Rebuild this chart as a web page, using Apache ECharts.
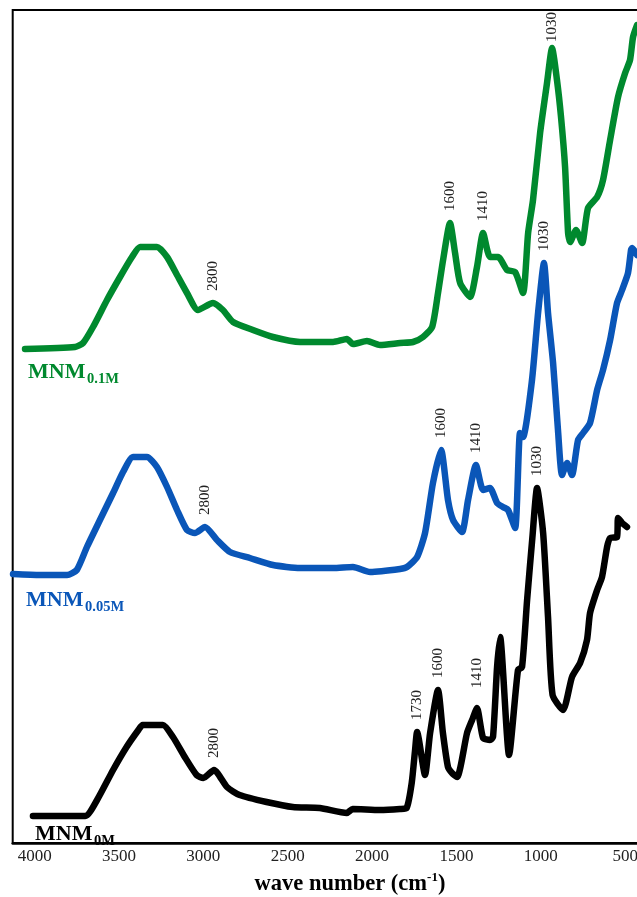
<!DOCTYPE html>
<html>
<head>
<meta charset="utf-8">
<script src="https://cdn.jsdelivr.net/npm/echarts@6/dist/echarts.min.js"></script>
<style>
  html, body { margin: 0; padding: 0; background: #fff; }
  #chart { width: 637px; height: 897px; }
</style>
</head>
<body>
<div id="chart"></div>
<script>
// FTIR spectra of the three MNM samples, stacked with vertical offsets.
// x: wave number (cm-1), y: intensity in arbitrary units.

const tickLabels = [4000, 3500, 3000, 2500, 2000, 1500, 1000, 500];

const mnm0M = [
  [4010, 2.7], [3700, 2.7], [3630, 4.3], [3535, 7.3], [3455, 9.6], [3385, 11.3],
  [3360, 11.8], [3240, 11.8], [3180, 10.6], [3110, 8.6], [3040, 6.8], [3000, 6.5],
  [2937, 7.3], [2860, 5.6], [2785, 4.8], [2625, 4.1], [2470, 3.6], [2310, 3.5],
  [2150, 3.0], [2115, 3.4], [1955, 3.3], [1835, 3.4], [1795, 3.5], [1765, 6.0],
  [1745, 9.3], [1733, 11.1], [1686, 6.8], [1656, 11.0], [1609, 15.3], [1580, 11.0],
  [1550, 7.6], [1526, 7.0], [1496, 6.6], [1437, 11.0], [1407, 12.3], [1378, 13.5],
  [1342, 10.5], [1301, 10.3], [1283, 10.6], [1259, 17.6], [1241, 20.6], [1188, 8.8],
  [1135, 17.3], [1111, 17.6], [1081, 24.3], [1050, 30.5], [1022, 35.5], [986, 31.0],
  [957, 22.6], [930, 14.8], [868, 13.3], [815, 16.6], [767, 18.0], [726, 20.3],
  [708, 23.0], [666, 25.3], [637, 26.6], [607, 29.6], [589, 30.5], [548, 30.6],
  [542, 32.5], [518, 32.0], [489, 31.6]
];

const mnm005M = [
  [4128, 26.9], [3968, 26.8], [3808, 26.8], [3750, 27.3], [3690, 29.6], [3613, 32.3],
  [3535, 35.0], [3476, 37.1], [3417, 38.6], [3334, 38.6], [3275, 37.6], [3215, 35.6],
  [3156, 33.3], [3097, 31.3], [3050, 31.0], [2990, 31.6], [2919, 30.3], [2842, 29.1],
  [2724, 28.5], [2587, 27.8], [2427, 27.5], [2231, 27.5], [2113, 27.6], [2012, 27.1],
  [1834, 27.4], [1793, 27.6], [1733, 28.6], [1686, 31.0], [1639, 36.0], [1591, 39.3],
  [1550, 34.3], [1520, 32.3], [1467, 31.1], [1431, 34.3], [1384, 37.8], [1342, 35.3],
  [1301, 35.5], [1259, 34.0], [1224, 33.6], [1194, 33.3], [1152, 31.5], [1123, 41.0],
  [1105, 40.6], [1052, 46.3], [1016, 53.0], [981, 58.0], [957, 53.0], [927, 48.0],
  [898, 41.3], [874, 36.8], [844, 38.0], [815, 36.8], [779, 40.3], [749, 41.0],
  [708, 42.0], [666, 45.3], [631, 47.3], [589, 50.3], [548, 54.0], [518, 55.3],
  [483, 57.0], [465, 59.3], [459, 59.5], [429, 58.8]
];

const mnm01M = [
  [4057, 49.4], [3761, 49.6], [3713, 50.0], [3654, 51.6], [3571, 54.3], [3494, 56.6],
  [3423, 58.6], [3375, 59.6], [3275, 59.6], [3215, 58.6], [3156, 56.8], [3097, 55.0],
  [3032, 53.3], [2943, 54.0], [2884, 53.3], [2824, 52.1], [2706, 51.3], [2587, 50.6],
  [2427, 50.1], [2231, 50.1], [2149, 50.4], [2113, 49.9], [2030, 50.2], [1953, 49.8],
  [1834, 50.0], [1757, 50.1], [1698, 50.6], [1644, 51.6], [1609, 55.0], [1579, 58.3],
  [1538, 62.0], [1508, 59.0], [1478, 56.0], [1419, 54.6], [1378, 57.6], [1342, 61.0],
  [1301, 58.6], [1253, 58.6], [1200, 57.3], [1152, 57.1], [1105, 55.0], [1075, 61.0],
  [1046, 64.3], [1004, 71.0], [963, 76.0], [933, 79.5], [904, 76.3], [880, 72.6],
  [856, 67.6], [838, 61.0], [826, 60.1], [791, 61.3], [755, 60.0], [720, 63.5],
  [666, 64.6], [631, 66.3], [589, 70.3], [542, 74.6], [500, 77.0], [471, 78.3],
  [453, 80.6], [429, 81.8]
];

// Band assignments written above the peaks: [text, wave number of the peak in the data]
const peaks0M = [['2800', 2937], ['1730', 1733], ['1600', 1609], ['1410', 1378], ['1030', 1022]];
const peaks005M = [['2800', 2990], ['1600', 1591], ['1410', 1384], ['1030', 981]];
const peaks01M = [['2800', 2943], ['1600', 1538], ['1410', 1342], ['1030', 933]];

const SERIF = '"Liberation Serif", "Times New Roman", "DejaVu Serif", serif';
const COLORS = { m0: '#000000', m005: '#0a56b8', m01: '#00892e' };

// gap (px) between a peak and its rotated annotation
const DEFAULT_GAP = 11;
const gapOverrides = { m0: { '1410': 19 }, m01: { '1030': 5 } };

function peakMarks(data, peaks, key) {
  const over = gapOverrides[key] || {};
  return peaks.map(([text, wn]) => {
    const pt = data.find(d => d[0] === wn);
    const gap = over[text] != null ? over[text] : DEFAULT_GAP;
    return { name: text, coord: [pt[0], pt[1]], label: { position: [1, -gap] } };
  });
}

function spectrum(name, data, color, peaks, key) {
  return {
    type: 'line',
    name,
    data,
    showSymbol: false,
    symbol: 'none',
    smooth: 0.2,
    animation: false,
    lineStyle: { width: 6.5, color, cap: 'round', join: 'round' },
    markPoint: {
      animation: false,
      symbol: 'circle',
      symbolSize: 2,
      itemStyle: { color: 'rgba(0,0,0,0)' },
      label: {
        show: true,
        formatter: '{b}',
        rotate: 90,
        align: 'left',
        verticalAlign: 'middle',
        color: '#222',
        fontFamily: SERIF,
        fontSize: 15
      },
      data: peakMarks(data, peaks, key)
    }
  };
}

function sampleName(x, y, sub, color) {
  return {
    type: 'group',
    children: [
      { type: 'text', x, y, style: { text: 'MNM', fill: color, font: 'bold 22px ' + SERIF, align: 'left', verticalAlign: 'middle' } },
      { type: 'text', x: x + 59, y: y + 7, style: { text: sub, fill: color, font: 'bold 14.5px ' + SERIF, align: 'left', verticalAlign: 'middle' } }
    ]
  };
}

const chart = echarts.init(document.getElementById('chart'), null, { renderer: 'canvas' });

chart.setOption({
  animation: false,
  backgroundColor: '#fff',
  grid: {
    left: 12.7, right: -5, top: 10, bottom: 54,
    show: true, borderColor: '#000', borderWidth: 2,
    containLabel: false, outerBoundsMode: 'none'
  },
  xAxis: {
    type: 'value',
    inverse: true,
    min: 400,
    max: 4130,
    axisLine: { show: true, onZero: false, lineStyle: { color: '#000', width: 2.5 } },
    axisTick: { show: false },
    splitLine: { show: false },
    axisLabel: {
      customValues: tickLabels,
      formatter: v => String(v),
      color: '#222',
      fontFamily: SERIF,
      fontSize: 17,
      margin: 5
    }
  },
  yAxis: { type: 'value', min: 0, max: 83.3, show: false },
  series: [
    spectrum('MNM0M', mnm0M, COLORS.m0, peaks0M, 'm0'),
    spectrum('MNM0.05M', mnm005M, COLORS.m005, peaks005M, 'm005'),
    spectrum('MNM0.1M', mnm01M, COLORS.m01, peaks01M, 'm01')
  ],
  graphic: [
    sampleName(28, 372, '0.1M', COLORS.m01),
    sampleName(26, 600, '0.05M', COLORS.m005),
    sampleName(35, 834, '0M', COLORS.m0),
    {
      type: 'text',
      x: 350,
      y: 884,
      style: {
        text: '{a|wave number (cm}{s|-1}{a|)}',
        align: 'center',
        verticalAlign: 'middle',
        rich: {
          a: { fontFamily: SERIF, fontWeight: 'bold', fontSize: 22.5, fill: '#000', lineHeight: 26 },
          s: { fontFamily: SERIF, fontWeight: 'bold', fontSize: 13, fill: '#000', lineHeight: 13, verticalAlign: 'top' }
        }
      }
    }
  ]
});
</script>
</body>
</html>
